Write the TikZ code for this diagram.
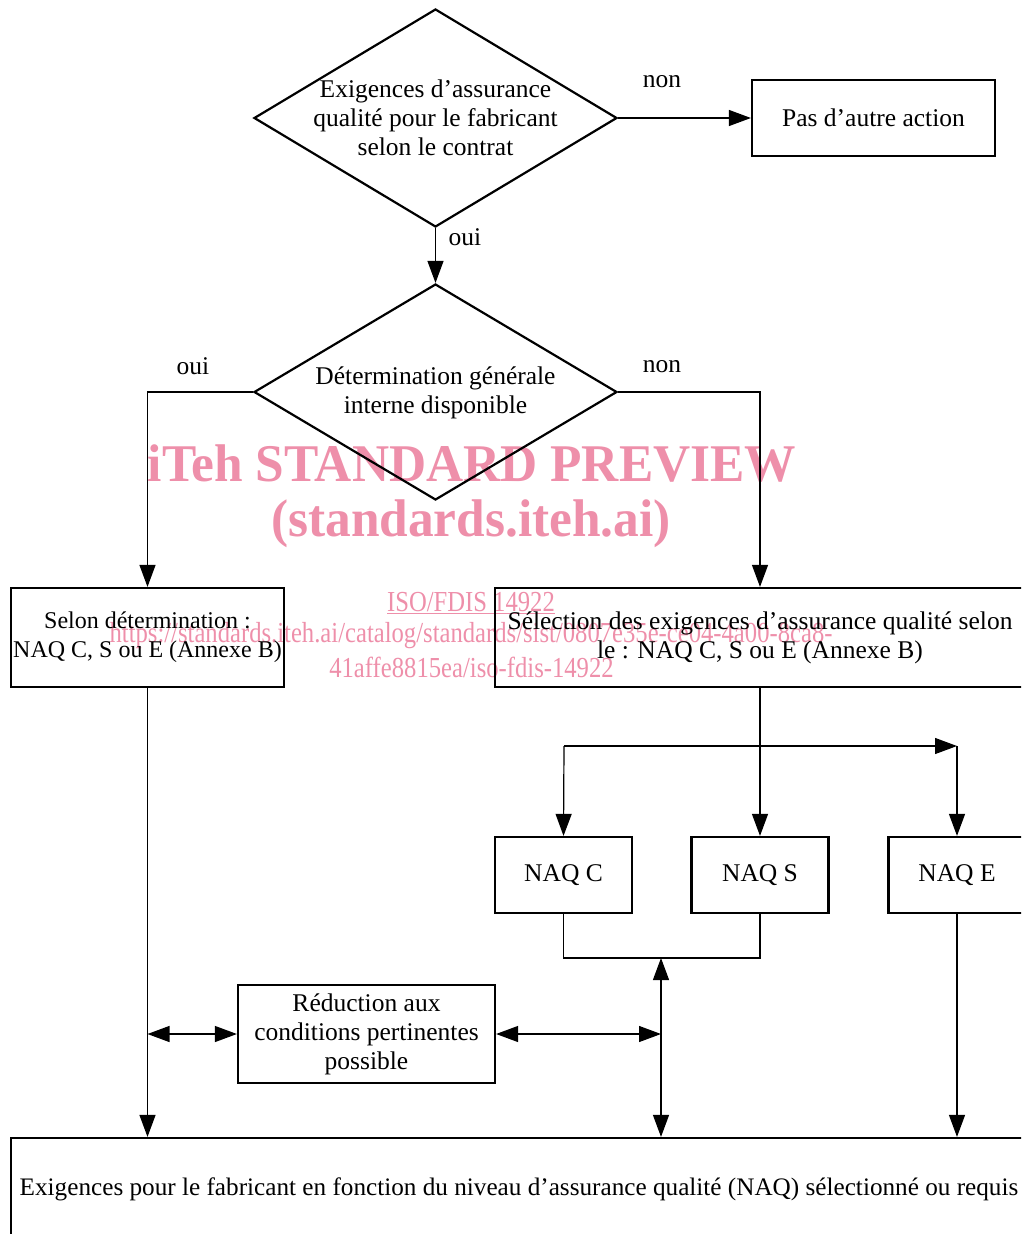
\documentclass[tikz,border=0pt]{standalone}
\usepackage{fontspec}
\setmainfont{Liberation Serif}
\newfontfamily\wmfont[FakeStretch=0.85]{Liberation Serif}
\newfontfamily\wmbigfont[FakeStretch=0.97]{Liberation Serif}
\usetikzlibrary{shapes.geometric,arrows.meta,calc}
\definecolor{wm}{RGB}{238,143,170}
\begin{document}
\begin{tikzpicture}[x=1pt,y=-1pt,
  txt/.style={font=\fontsize{25.5}{29}\selectfont},
  box/.style={draw,line width=2.2pt,rectangle,inner sep=0pt,align=center,txt},
  dia/.style={draw,line width=2.2pt,diamond,inner sep=0pt},
  conn/.style={line width=1.2pt},
  arr/.style={conn,-{Triangle[length=22pt,width=16pt]}},
  darr/.style={conn,{Triangle[length=22pt,width=16pt]}-{Triangle[length=22pt,width=16pt]}},
  wmbig/.style={text=wm,font=\wmbigfont\bfseries\fontsize{53}{60}\selectfont},
  wmsmall/.style={text=wm,font=\wmfont\fontsize{29}{31}\selectfont}
]
\useasboundingbox (0,0) rectangle (1021,1234);
\clip (0,0) rectangle (1021,1234);

% watermark (behind)
\node[wmbig] (wm1) at (472,464) {iTeh STANDARD PREVIEW};
\node[wmbig] (wm2) at (471,524) {(standards.iteh.ai)};
\node[wmsmall] (wm3) at (471,603) {\underline{ISO/FDIS 14922}};
\node[wmsmall] (wm4) at (471,636) {https://standards.iteh.ai/catalog/standards/sist/0807e35e-ce04-4a00-8ca8-};
\node[wmsmall] (wm5) at (471.5,667) {41affe8815ea/iso-fdis-14922};

% shapes
\node[dia,minimum width=363pt,minimum height=218pt] (d1) at (435.5,118) {};
\node[txt,align=center] (d1t) at (d1.center) {Exigences d’assurance\\qualité pour le fabricant\\selon le contrat};
\node[box,minimum width=243pt,minimum height=76pt] (pas) at (873.5,118) {Pas d’autre action};
\node[dia,minimum width=363pt,minimum height=216pt] (d2) at (435.5,392) {};
\node[txt,align=center] (d2t) at (435.5,393) {Détermination générale\\interne disponible};
\node[box,minimum width=273pt,minimum height=99pt,font=\fontsize{24}{29}\selectfont] (sel) at (147.5,637.5) {Selon détermination :\\NAQ C, S ou E (Annexe B)};
\node[box,minimum width=530pt,minimum height=99pt] (selx) at (760,637.5) {Sélection des exigences d’assurance qualité selon\\le : NAQ C, S ou E (Annexe B)};
\node[box,minimum width=137pt,minimum height=76pt] (naqc) at (563.5,875) {NAQ C};
\node[box,minimum width=137pt,minimum height=76pt] (naqs) at (760,875) {NAQ S};
\node[box,minimum width=137pt,minimum height=76pt] (naqe) at (957,875) {NAQ E};
\node[box,minimum width=257pt,minimum height=98pt] (red) at (366.5,1034) {Réduction aux\\conditions pertinentes\\possible};
\node[box,minimum width=1016pt,minimum height=102pt,font=\fontsize{25.2}{29}\selectfont] (bot) at (519,1189) {Exigences pour le fabricant en fonction du niveau d’assurance qualité (NAQ) sélectionné ou requis};

% labels
\node[txt] (l1) at (662,82) {non};
\node[txt] (l2) at (465,237) {oui};
\node[txt] (l3) at (193,366) {oui};
\node[txt] (l4) at (662,367) {non};

% coordinates
\coordinate (bl) at (564,746);
\coordinate (br) at (957,746);
\coordinate (j) at (661,958);

% connectors
\draw[arr] (d1.east) -- (pas.west);
\draw[arr] (d1.south) -- (d2.north);
\draw[arr] (d2.west) -| (sel.north);
\draw[arr] (d2.east) -| (selx.north);
\draw[arr] (selx.south) -- (naqs.north);
\draw[arr] (bl) -- (br);
\draw[arr] (bl) -- (naqc.north);
\draw[arr] (br) -- (naqe.north);
\draw[conn] (naqc.south) |- (j) -| (naqs.south);
\draw[darr] (j |- bot.north) -- (j);
\draw[arr] (sel.south) -- (sel.south |- bot.north);
\draw[arr] (naqe.south) -- (naqe.south |- bot.north);
\draw[darr] (sel.south |- red.west) -- (red.west);
\draw[darr] (red.east) -- (j |- red.east);
\end{tikzpicture}
\end{document}
